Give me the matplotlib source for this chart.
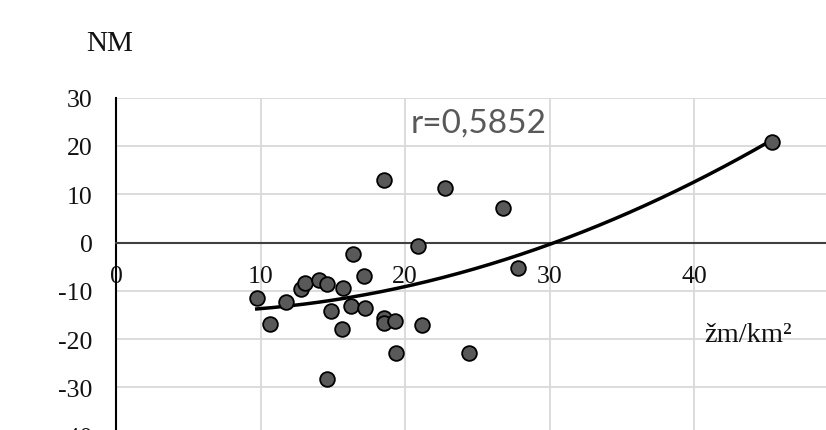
import numpy as np
import matplotlib
matplotlib.use("Agg")
import matplotlib.pyplot as plt

# data
x_vals = [9.74, 10.66, 11.76, 12.8, 13.08, 14.07, 14.58, 14.86, 14.58, 15.73,
          15.66, 16.26, 16.42, 17.18, 17.25, 18.57, 22.77, 26.8, 20.92, 18.55,
          18.55, 19.31, 21.15, 19.38, 24.45, 27.8, 45.4]
y_vals = [-11.4, -16.8, -12.3, -9.7, -8.4, -7.7, -8.6, -14.2, -28.3, -9.5,
          -17.8, -13.1, -2.4, -7.0, -13.5, 13.0, 11.4, 7.1, -0.7, -15.7,
          -16.7, -16.3, -17.1, -22.8, -22.9, -5.3, 20.8]
x_ticks = [0, 10, 20, 30, 40]
y_ticks = [-40, -30, -20, -10, 0, 10, 20, 30]
r_label = "r=0,5852"
y_title = "NM"
x_title = "žm/km²"

serif = ["Liberation Serif", "DejaVu Serif"]

fig = plt.figure(figsize=(8.26, 4.31), dpi=100)
ax = fig.add_axes([116/826, -5.7/431, 722.5/826, 338/431])

ax.spines["top"].set_visible(False)
ax.spines["right"].set_visible(False)
ax.spines["bottom"].set_position(("data", 0))
ax.spines["bottom"].set_color("#404040")
ax.spines["bottom"].set_linewidth(1.5)
ax.spines["left"].set_color("black")
ax.spines["left"].set_linewidth(1.5)

ax.set_xlim(0, 50)
ax.set_ylim(-40, 30)

ax.set_xticks(x_ticks)
ax.set_yticks(y_ticks)
ax.set_xticklabels([str(t) for t in x_ticks], fontfamily=serif, fontsize=18.5)
ax.set_yticklabels([str(t) for t in y_ticks], fontfamily=serif, fontsize=18.5)
ax.tick_params(axis="both", length=0, colors="#111111")
ax.tick_params(axis="x", pad=16)
ax.tick_params(axis="y", pad=17)

for xv in [10, 20, 30, 40, 50]:
    ax.axvline(xv, color="#d9d9d9", lw=1.3, zorder=0)
for yv in [-40, -30, -20, -10, 10, 20, 30]:
    ax.axhline(yv, color="#d9d9d9", lw=1.3, zorder=0)

xs = np.array(x_vals)
ys = np.array(y_vals)
coef = np.polyfit(xs, ys, 2)
xx = np.linspace(xs.min(), xs.max(), 200)
ax.plot(xx, np.polyval(coef, xx), color="black", lw=2.5, zorder=3)

ax.scatter(xs, ys, s=112, facecolor="#595959", edgecolor="black", linewidth=1.3, zorder=4)

fig.text(411/826, 1 - 124/431, r_label, fontfamily=["Lato", "DejaVu Sans"], fontsize=24,
         color="#595959", ha="left", va="center")
fig.text(110/826, 1 - 44/431, y_title, fontfamily=serif, fontsize=21, color="#111111",
         ha="center", va="center")
fig.text(748/826, 1 - 336/431, x_title, fontfamily=serif, fontsize=20.5, color="#111111",
         ha="center", va="center")

fig.savefig("out.png", dpi=100)
